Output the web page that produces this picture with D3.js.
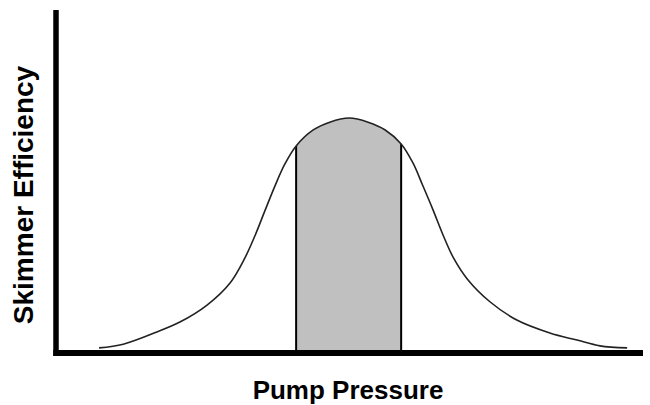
<!DOCTYPE html>
<html>
<head>
<meta charset="utf-8">
<script src="https://cdn.jsdelivr.net/npm/d3@7"></script>
<style>
  html, body { margin: 0; padding: 0; background: #fff; }
  svg { display: block; }
</style>
</head>
<body>
<div id="chart"></div>
<script>
// curve (pressure 0-100, efficiency 0-100)
const pressure = [7.3, 11.4, 17.1, 21.0, 25.6, 29.5, 32.0, 33.7, 35.4, 37.1, 38.8, 40.7, 43.6, 46.4, 49.7, 52.9, 55.8, 58.5, 60.5, 62.2, 63.9, 65.6, 67.3, 69.7, 73.6, 78.1, 83.7, 88.3, 92.2, 96.8];
const efficiency = [1.5, 2.6, 6.2, 9.1, 14.1, 20.6, 27.9, 34.4, 41.8, 49.1, 55.6, 60.9, 65.6, 67.9, 69.1, 67.9, 65.6, 61.5, 55.9, 49.1, 42.1, 34.7, 28.2, 21.8, 15.0, 9.7, 5.9, 3.8, 2.1, 1.5];
// shaded band
const band = [40.7, 58.5];
const xLabel = "Pump Pressure";
const yLabel = "Skimmer Efficiency";

const width = 650;
const height = 405;

const x = d3.scaleLinear().domain([0, 100]).range([56, 646]);
const y = d3.scaleLinear().domain([0, 100]).range([353, 13]);

const data = pressure.map((p, i) => ({p: p, e: efficiency[i]}));

const svg = d3.create("svg")
  .attr("width", width)
  .attr("height", height)
  .attr("viewBox", `0 0 ${width} ${height}`);

const line = d3.line()
  .x(d => x(d.p))
  .y(d => y(d.e))
  .curve(d3.curveCatmullRom.alpha(0.5));

const area = d3.area()
  .x(d => x(d.p))
  .y0(y(0))
  .y1(d => y(d.e))
  .curve(d3.curveCatmullRom.alpha(0.5));

// clip for the band, and one for the area under the curve
const defs = svg.append("defs");
defs.append("clipPath").attr("id", "bandClip")
  .append("rect")
    .attr("x", x(band[0]))
    .attr("y", 0)
    .attr("width", x(band[1]) - x(band[0]))
    .attr("height", height);
defs.append("clipPath").attr("id", "underClip")
  .append("path")
    .attr("d", area(data));

svg.append("path")
  .attr("d", area(data))
  .attr("fill", "#c0c0c0")
  .attr("clip-path", "url(#bandClip)");

// vertical edges of the band, cut to the curve
svg.append("g")
  .attr("clip-path", "url(#underClip)")
  .selectAll("line")
  .data(band)
  .join("line")
    .attr("x1", d => x(d))
    .attr("x2", d => x(d))
    .attr("y1", y(0))
    .attr("y2", y(100))
    .attr("stroke", "#000")
    .attr("stroke-width", 2);

svg.append("path")
  .attr("d", line(data))
  .attr("fill", "none")
  .attr("stroke", "#222")
  .attr("stroke-width", 1.6);

// axes: thick bars, no ticks
svg.append("line")
  .attr("x1", x(0)).attr("x2", x(0))
  .attr("y1", 10).attr("y2", y(0) + 3)
  .attr("stroke", "#000").attr("stroke-width", 5.5);

svg.append("line")
  .attr("x1", x(0) - 2.75).attr("x2", 643)
  .attr("y1", y(0)).attr("y2", y(0))
  .attr("stroke", "#000").attr("stroke-width", 6);

svg.append("text")
  .attr("x", 348)
  .attr("y", 399)
  .attr("text-anchor", "middle")
  .style("font", "bold 26px 'Liberation Sans', Arial, sans-serif")
  .text(xLabel);

svg.append("text")
  .attr("transform", "translate(33,195) rotate(-90)")
  .attr("text-anchor", "middle")
  .style("font", "bold 28px 'Liberation Sans', Arial, sans-serif")
  .text(yLabel);

document.getElementById("chart").appendChild(svg.node());
</script>
</body>
</html>
